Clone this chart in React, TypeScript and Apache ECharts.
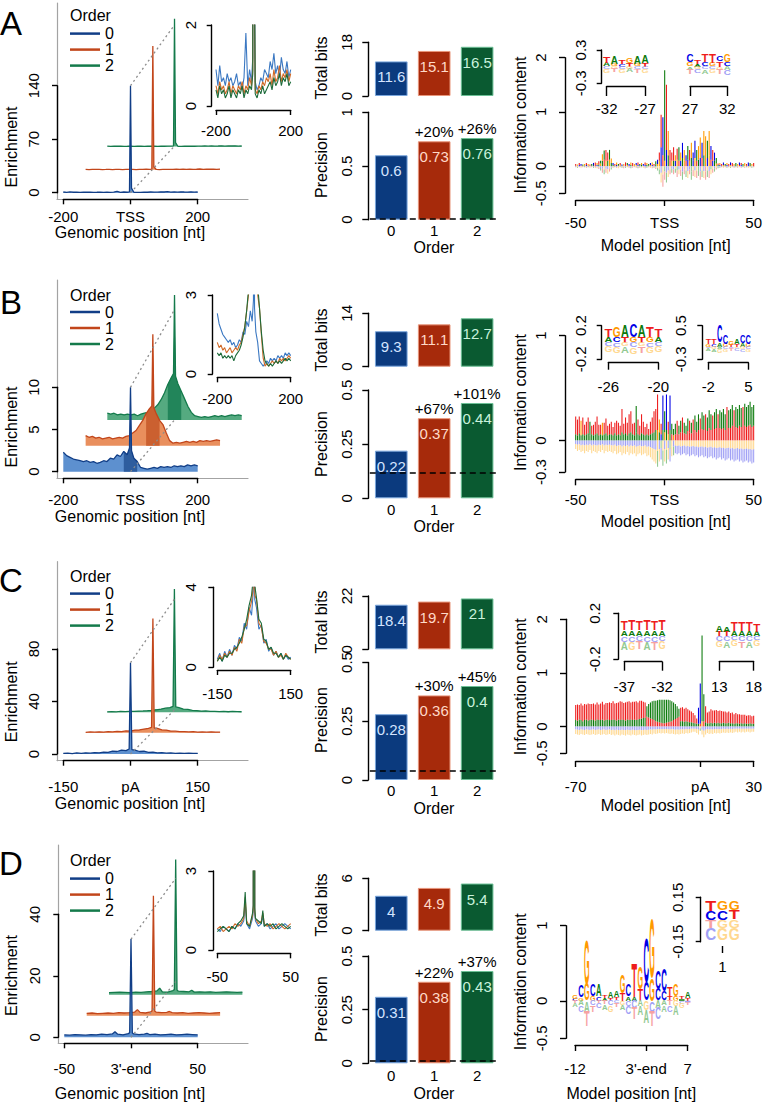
import React, { useEffect, useRef } from 'react';
import * as echarts from 'echarts';

const FONT = '"Liberation Sans", Arial, Helvetica, sans-serif';
const ORDERS = ['0', '1', '2'];

/* ---------------- enrichment profiles (left panels) ---------------- */
const posAB = [-200, -190, -180, -170, -160, -150, -140, -130, -120, -110, -100, -90, -80, -70, -60, -50, -40, -30, -20, -10, -3, 0, 3, 10, 20, 30, 40, 50, 60, 70, 80, 90, 100, 110, 120, 130, 140, 150, 160, 170, 180, 190, 200];
const posC = [-150, -140, -130, -120, -110, -100, -90, -80, -70, -60, -50, -40, -30, -20, -10, -3, 0, 3, 10, 20, 30, 40, 50, 60, 70, 80, 90, 100, 110, 120, 130, 140, 150];
const posD = [-50, -46, -42, -38, -34, -30, -26, -22, -18, -14, -12, -10, -6, -2, -1, 0, 1, 2, 6, 10, 12, 14, 18, 22, 26, 30, 34, 38, 42, 46, 50];

const enrichA0 = [0.9, 0.5, 1.0, 0.6, 0.7, 0.5, 0.8, 0.6, 0.7, 0.5, 0.6, 0.8, 0.5, 0.6, 0.4, 0.7, 1.8, 0.5, 0.9, 0.6, 1.2, 140, 6, 0.6, 0.4, 0.5, 0.7, 0.6, 0.9, 0.8, 0.7, 1.1, 0.9, 1.3, 0.8, 1.0, 0.7, 1.2, 0.9, 0.8, 1.1, 0.7, 0.9];
const enrichA1 = [0.5, 0.3, 0.6, 0.4, 0.5, 0.3, 0.4, 0.6, 0.3, 0.5, 0.4, 0.3, 0.5, 0.4, 0.6, 0.3, 0.5, 0.4, 0.7, 0.5, 0.9, 162, 4, 0.4, 0.3, 0.5, 0.4, 0.6, 0.5, 0.7, 0.6, 0.8, 0.5, 0.9, 0.6, 0.7, 1.0, 0.6, 0.8, 0.7, 0.9, 0.6, 0.8];
const enrichA2 = [0.4, 0.2, 0.5, 0.3, 0.4, 0.2, 0.3, 0.5, 0.2, 0.4, 0.3, 0.2, 0.4, 0.3, 0.5, 0.2, 0.4, 0.3, 0.5, 0.4, 0.8, 167, 5, 0.3, 0.2, 0.4, 0.3, 0.5, 0.3, 0.4, 0.5, 0.6, 0.4, 0.7, 0.5, 0.6, 0.8, 0.5, 0.7, 0.6, 0.8, 0.5, 0.6];

const enrichB0 = [2.3, 1.9, 1.7, 1.5, 1.4, 1.3, 1.2, 1.3, 1.1, 1.2, 1.0, 1.1, 1.3, 1.2, 1.6, 1.5, 2.0, 1.8, 2.4, 2.0, 2.8, 10, 2.5, 1.6, 1.2, 0.5, 0.4, 0.3, 0.4, 0.5, 0.4, 0.6, 0.5, 0.6, 0.5, 0.7, 0.6, 0.7, 0.6, 0.8, 0.7, 0.8, 0.7];
const enrichB1 = [1.2, 1.0, 1.1, 0.9, 1.0, 0.8, 0.9, 1.0, 0.8, 0.9, 1.0, 0.9, 1.1, 1.2, 1.5, 1.8, 2.4, 3.0, 3.8, 4.4, 4.7, 13.2, 4.5, 3.8, 3.0, 2.5, 1.5, 0.6, 0.3, 0.4, 0.3, 0.4, 0.5, 0.4, 0.5, 0.4, 0.6, 0.5, 0.6, 0.5, 0.6, 0.7, 0.6];
const enrichB2 = [0.8, 0.7, 0.8, 0.6, 0.7, 0.6, 0.7, 0.6, 0.7, 0.5, 0.7, 0.8, 0.9, 1.1, 1.4, 1.8, 2.4, 3.2, 4.2, 5.0, 5.5, 14.8, 5.2, 4.3, 3.4, 2.5, 1.6, 0.9, 0.5, 0.4, 0.3, 0.4, 0.3, 0.4, 0.5, 0.4, 0.5, 0.4, 0.5, 0.6, 0.5, 0.6, 0.5];

const enrichC0 = [0.4, 0.7, 0.3, 0.8, 0.5, 0.9, 0.6, 1.1, 0.9, 1.5, 1.3, 2.2, 1.9, 3.0, 2.6, 3.8, 69.6, 3.4, 3.0, 1.9, 2.1, 1.2, 1.4, 0.8, 1.0, 0.6, 0.8, 0.5, 0.7, 0.4, 0.6, 0.4, 0.5];
const enrichC1 = [0.3, 0.6, 0.4, 0.7, 0.5, 0.8, 0.6, 1.0, 0.8, 1.4, 1.2, 2.0, 2.1, 2.8, 3.3, 4.0, 87, 3.6, 3.4, 2.2, 2.0, 1.3, 1.2, 0.9, 0.9, 0.6, 0.8, 0.5, 0.6, 0.4, 0.7, 0.5, 0.4];
const enrichC2 = [0.3, 0.5, 0.3, 0.6, 0.5, 0.7, 0.7, 0.9, 1.0, 1.2, 1.5, 1.9, 2.4, 3.1, 3.6, 4.5, 94, 4.1, 3.5, 2.4, 2.2, 1.4, 1.3, 0.9, 1.0, 0.7, 0.7, 0.5, 0.7, 0.4, 0.6, 0.5, 0.4];

const enrichD0 = [0.8, 0.7, 0.9, 0.8, 0.7, 0.9, 0.8, 1.0, 0.9, 1.1, 1.8, 1.0, 0.8, 1.2, 1.5, 32, 1.4, 1.1, 0.9, 1.0, 1.3, 0.9, 1.0, 0.8, 0.9, 1.0, 0.8, 0.9, 1.0, 0.9, 0.8];
const enrichD1 = [0.8, 0.9, 0.7, 0.8, 0.9, 0.8, 1.0, 0.9, 1.0, 1.2, 2.0, 1.1, 0.9, 1.3, 1.6, 39, 1.5, 1.2, 1.0, 1.1, 1.4, 1.0, 0.9, 1.0, 0.8, 0.9, 1.0, 0.9, 0.8, 0.9, 1.0];
const enrichD2 = [0.7, 0.8, 0.9, 0.8, 0.7, 0.9, 0.8, 1.0, 1.1, 1.3, 2.2, 1.0, 0.9, 1.4, 1.7, 44, 1.6, 1.2, 1.1, 1.0, 1.5, 0.9, 1.0, 0.9, 1.0, 0.8, 0.9, 1.0, 0.9, 0.8, 0.9];

// perspective shift of the order-1 and order-2 profiles (nt, enrichment units)
const shiftXA = [0, 66.5, 131];
const shiftYA = [0, 30, 60.5];
const shiftXB = [0, 66.5, 131];
const shiftYB = [0, 3.08, 6.13];
const shiftXC = [0, 50, 98];
const shiftYC = [0, 16.2, 31.8];
const shiftXD = [0, 16.8, 33.5];
const shiftYD = [0, 7.0, 13.8];

// dotted depth guides
const depthTopA = [[0, 140], [131, 219.5]];
const depthBaseA = [[0, 0], [131, 61]];
const depthTopB = [[0, 10], [131, 19.2]];
const depthBaseB = [[0, 0], [131, 6.13]];
const depthTopC = [[0, 69.6], [98, 117.9]];
const depthBaseC = [[0, 0], [98, 33.5]];
const depthTopD = [[0, 31.9], [33.5, 51.7]];
const depthBaseD = [[0, 0], [33.5, 18.1]];

const bandB = [-27, 20];

const xTicksA = [-200, 0, 200];
const xTicksB = [-200, 0, 200];
const xTicksC = [-150, 0, 150];
const xTicksD = [-50, 0, 50];
const yTicksA = [0, 70, 140];
const yTicksB = [0, 5, 10];
const yTicksC = [0, 40, 80];
const yTicksD = [0, 20, 40];
const insetMax = [2, 3, 4, 3];

/* ---------------- bar panels ---------------- */
const totalBitsA = [11.6, 15.1, 16.5];
const totalBitsB = [9.3, 11.1, 12.7];
const totalBitsC = [18.4, 19.7, 21];
const totalBitsD = [4, 4.9, 5.4];
const bitsMax = [18, 14, 22, 6];
const precisionA = [0.6, 0.73, 0.76];
const precisionB = [0.22, 0.37, 0.44];
const precisionC = [0.28, 0.36, 0.4];
const precisionD = [0.31, 0.38, 0.43];
const precTicksA = [0, 0.5, 1];
const precTicksBCD = [0, 0.25, 0.5];
const gainA = ['', '+20%', '+26%'];
const gainB = ['', '+67%', '+101%'];
const gainC = ['', '+30%', '+45%'];
const gainD = ['', '+22%', '+37%'];
const chancePrecision = [0.01, 0.12, 0.04, 0.01];

/* ---------------- sequence logos (right panels) ---------------- */
// Row A, positions -50..50
const logoA_top = [0.03, 0.02, 0.04, 0.03, 0.02, 0.03, 0.04, 0.03, 0.02, 0.03, 0.04, 0.05, 0.04, 0.06,
  0.05, 0.12, 0.17, 0.2, 0.15, 0.18, 0.08,
  0.04, 0.03, 0.05, 0.03, 0.04, 0.02, 0.03, 0.05, 0.04, 0.03, 0.05, 0.04, 0.03, 0.04, 0.05, 0.03, 0.04, 0.03, 0.05, 0.04, 0.03, 0.04, 0.05, 0.03, 0.06, 0.08,
  0.15, 0.6, 0.7, 1.67, 1.2, 0.45, 0.2, 0.15,
  0.25, 0.1, 0.2, 0.25, 0.15, 0.28, 0.2, 0.1, 0.25, 0.2, 0.28, 0.15, 0.32, 0.2, 0.25, 0.38, 0.28, 0.45, 0.4, 0.32, 0.45, 0.25, 0.2, 0.15, 0.1, 0.03,
  0.04, 0.03, 0.05, 0.03, 0.04, 0.03, 0.05, 0.04, 0.03, 0.04, 0.03, 0.05, 0.04, 0.03, 0.04, 0.03, 0.05, 0.04, 0.03, 0.04];
const logoA_topL = 'TGTCAGTGTACTGT' + 'AGATTAG' + 'CTGATCGTACGTGCTAGCTGACGTAC' + 'TTCATGTT' + 'TGTAGCGCATGCCAGGCGGAGCTCAT' + 'GTCAGTCTGAGCTAGTCAGT';
const logoA_low = [0.01, 0.01, 0.02, 0.01, 0.01, 0.01, 0.02, 0.01, 0.01, 0.01, 0.02, 0.02, 0.02, 0.03,
  0.05, 0.1, 0.12, 0.1, 0.1, 0.12, 0.06,
  0.02, 0.01, 0.02, 0.01, 0.02, 0.01, 0.01, 0.02, 0.02, 0.01, 0.02, 0.02, 0.01, 0.02, 0.02, 0.01, 0.02, 0.01, 0.02, 0.02, 0.01, 0.02, 0.02, 0.01, 0.03, 0.04,
  0.1, 0.35, 0.2, 0.1, 0.3, 0.2, 0.1, 0.1,
  0.1, 0.1, 0.12, 0.1, 0.1, 0.15, 0.1, 0.1, 0.12, 0.1, 0.15, 0.1, 0.15, 0.1, 0.12, 0.15, 0.15, 0.2, 0.15, 0.15, 0.2, 0.12, 0.1, 0.1, 0.05, 0.02,
  0.02, 0.01, 0.02, 0.01, 0.02, 0.01, 0.02, 0.02, 0.01, 0.02, 0.01, 0.02, 0.02, 0.01, 0.02, 0.01, 0.02, 0.02, 0.01, 0.02];
const logoA_lowL = 'AGCTGACTGCATCA' + 'GATGAGA' + 'AGCTGACTGCATAGCTAGCATGCTAG' + 'GCTGCATG' + 'ACGTCAGTCGACGTACTAGCGTCAGA' + 'CAGTCAGTCAGTCAGTCAGT';
const logoA_neg = [0.02, 0.03, 0.02, 0.03, 0.02, 0.02, 0.03, 0.02, 0.03, 0.02, 0.03, 0.03, 0.04, 0.05,
  0.08, 0.12, 0.15, 0.12, 0.14, 0.1, 0.06,
  0.03, 0.02, 0.03, 0.04, 0.02, 0.03, 0.04, 0.03, 0.02, 0.03, 0.04, 0.03, 0.02, 0.03, 0.04, 0.03, 0.02, 0.03, 0.04, 0.03, 0.02, 0.03, 0.04, 0.03, 0.05, 0.08,
  0.15, 0.3, 0.38, 0.25, 0.3, 0.2, 0.15, 0.12,
  0.15, 0.12, 0.2, 0.15, 0.18, 0.25, 0.15, 0.2, 0.22, 0.15, 0.25, 0.18, 0.2, 0.22, 0.18, 0.25, 0.2, 0.22, 0.25, 0.2, 0.22, 0.15, 0.12, 0.1, 0.06, 0.04,
  0.03, 0.02, 0.03, 0.02, 0.03, 0.02, 0.03, 0.02, 0.03, 0.02, 0.03, 0.02, 0.03, 0.02, 0.03, 0.02, 0.03, 0.02, 0.03, 0.02];
const logoA_neg1 = 'CGCGACGCTGCAGC' + 'CCGCCGC' + 'GCAGCTGCAGCGCAGCTGCAGCGCAG' + 'GCGACCGC' + 'CGACGCTGCCAGCGACGCTGCAGCGC' + 'GCAGCTGCAGCGCAGCTGCA';
const logoA_neg2 = 'TATGTATAGTATGT' + 'ATATGTA' + 'TATGTATAGTATGTATAGTATGTATA' + 'AGTTAGTA' + 'TATGTATAGTATGTATAGTATGTATA' + 'ATGTATAGTATGTATAGTAT';

// Row B, positions -50..50
const logoB_top = [0.17, 0.15, 0.16, 0.14, 0.16, 0.1, 0.12, 0.15, 0.13, 0.08, 0.1, 0.12, 0.16, 0.1, 0.09, 0.12, 0.11, 0.14, 0.09, 0.1,
  0.12, 0.08, 0.1, 0.14, 0.11, 0.09, 0.22, 0.1, 0.15, 0.12, 0.18, 0.2, 0.1, 0.12, 0.25, 0.14, 0.09, 0.18, 0.12, 0.08, 0.1, 0.06, 0.12, 0.15, 0.2,
  0.2, 0.34, 0.12, 0.1, 0.33, 0.2, 0.34, 0.12, 0.33, 0.1, 0.06,
  0.1, 0.12, 0.08, 0.11, 0.14, 0.1, 0.08, 0.12, 0.11, 0.1, 0.12, 0.14, 0.1, 0.15, 0.12, 0.16, 0.14, 0.15, 0.13, 0.17, 0.15, 0.14, 0.16, 0.18, 0.15, 0.17, 0.16, 0.18, 0.15, 0.19, 0.17, 0.18, 0.2, 0.17, 0.19, 0.18, 0.2, 0.18, 0.19, 0.21, 0.19, 0.2, 0.22, 0.19, 0.2];
const logoB_topL = 'TTTGTTTTAT' + 'TTTTTGTTTT' + 'TTTTTTTTTT' + 'TTTTATTTTT' + 'TTTTT' + 'TTGTCACTCAA' + 'ATAATAAATA' + 'TAAATAATAA' + 'ATAATAAAAT' + 'AAATAAAATA' + 'AAAAA';
const logoB_low = [0.06, 0.05, 0.07, 0.05, 0.06, 0.05, 0.06, 0.07, 0.05, 0.06, 0.05, 0.06, 0.07, 0.05, 0.06, 0.05, 0.06, 0.07, 0.05, 0.06,
  0.06, 0.05, 0.07, 0.05, 0.06, 0.05, 0.08, 0.06, 0.07, 0.05, 0.07, 0.08, 0.06, 0.05, 0.08, 0.06, 0.05, 0.07, 0.06, 0.05, 0.06, 0.05, 0.06, 0.07, 0.08,
  0.1, 0.1, 0.08, 0.06, 0.1, 0.08, 0.1, 0.06, 0.1, 0.06, 0.05,
  0.06, 0.07, 0.06, 0.08, 0.08, 0.07, 0.06, 0.09, 0.08, 0.07, 0.08, 0.1, 0.08, 0.1, 0.09, 0.11, 0.1, 0.1, 0.09, 0.12, 0.1, 0.1, 0.11, 0.12, 0.1, 0.12, 0.11, 0.12, 0.1, 0.13, 0.12, 0.12, 0.14, 0.12, 0.13, 0.12, 0.14, 0.13, 0.13, 0.14, 0.13, 0.14, 0.15, 0.13, 0.14];
const logoB_lowL = 'AAAAAAAAAA' + 'AAAAAAAAAA' + 'AAAAAAAAAA' + 'AAAAAAAAAA' + 'AAAAA' + 'AGACAGAGATG' + 'TTTTTTTTTT' + 'TTTTTTTTTT' + 'TTTTTTTTTT' + 'TTTTTTTTTT' + 'TTTTT';
const logoB_neg = [0.08, 0.1, 0.09, 0.11, 0.1, 0.12, 0.1, 0.11, 0.09, 0.12, 0.1, 0.11, 0.12, 0.1, 0.11, 0.09, 0.12, 0.1, 0.11, 0.1,
  0.11, 0.12, 0.1, 0.13, 0.12, 0.11, 0.14, 0.12, 0.13, 0.11, 0.14, 0.12, 0.13, 0.12, 0.15, 0.13, 0.12, 0.14, 0.13, 0.12, 0.15, 0.14, 0.16, 0.18, 0.2,
  0.22, 0.25, 0.2, 0.18, 0.24, 0.2, 0.22, 0.18, 0.2, 0.15, 0.14,
  0.12, 0.13, 0.12, 0.14, 0.13, 0.12, 0.14, 0.13, 0.15, 0.14, 0.13, 0.15, 0.14, 0.16, 0.15, 0.14, 0.16, 0.15, 0.17, 0.16, 0.15, 0.17, 0.16, 0.18, 0.17, 0.16, 0.18, 0.17, 0.19, 0.18, 0.17, 0.19, 0.18, 0.2, 0.19, 0.18, 0.2, 0.19, 0.21, 0.2, 0.19, 0.21, 0.2, 0.22, 0.21];
const logoB_neg1 = 'CCCCCCCCCC' + 'CCCCCCCCCC' + 'CCCCCCCCCC' + 'CCCCCCCCCC' + 'CCCCC' + 'CGCAGCGCAGC' + 'GGGGGGGGGG' + 'GGGGGGGGGG' + 'GGGGGGGGGG' + 'GGGGGGGGGG' + 'GGGGG';
const logoB_neg2 = 'GGGGGGGGGG' + 'GGGGGGGGGG' + 'GGGGGGGGGG' + 'GGGGGGGGGG' + 'GGGGG' + 'GAGCAGAGCGA' + 'CCCCCCCCCC' + 'CCCCCCCCCC' + 'CCCCCCCCCC' + 'CCCCCCCCCC' + 'CCCCC';

// Row C, positions -70..30
const logoC_top = [0.28, 0.3, 0.27, 0.31, 0.29, 0.3, 0.28, 0.32, 0.3, 0.29, 0.31, 0.3, 0.32, 0.29, 0.31, 0.33, 0.3, 0.32, 0.31, 0.33, 0.32, 0.34, 0.31, 0.33, 0.32, 0.35, 0.33, 0.32, 0.34, 0.33, 0.35, 0.32, 0.34, 0.33, 0.35, 0.32, 0.34, 0.33, 0.3, 0.28,
  0.2, 0.25, 0.3, 0.33, 0.36, 0.38, 0.4, 0.42, 0.43, 0.44, 0.44, 0.43, 0.42, 0.4, 0.37, 0.33, 0.28, 0.22, 0.15,
  0.25, 0.26, 0.24, 0.25, 0.23, 0.22, 0.2, 0.18, 0.15, 0.1, 0.3,
  0.75, 1.6, 0.5, 0.3, 0.2,
  0.22, 0.25, 0.24, 0.23, 0.25, 0.22, 0.24, 0.23, 0.21, 0.22, 0.2, 0.21, 0.19, 0.2, 0.18, 0.19, 0.17, 0.18, 0.16, 0.17, 0.16, 0.15, 0.16, 0.15, 0.14, 0.15];
const logoC_topL = 'TTTTTTTTTT' + 'TTTTTTTTTT' + 'TTTTTTTTTT' + 'TTTTTTTTTT' + 'AAAAAAAAAA' + 'AAAAAAAAA' + 'TTTTTTTTTTC' + 'CAATT' + 'TTTTTTTTTT' + 'TTTTTTTTTT' + 'TTTTTT';
const logoC_low = [0.12, 0.11, 0.13, 0.12, 0.1, 0.12, 0.13, 0.11, 0.12, 0.13, 0.12, 0.11, 0.13, 0.12, 0.12, 0.13, 0.11, 0.12, 0.13, 0.12, 0.12, 0.13, 0.12, 0.11, 0.13, 0.12, 0.13, 0.12, 0.11, 0.13, 0.12, 0.13, 0.12, 0.13, 0.12, 0.13, 0.14, 0.15, 0.16, 0.17,
  0.18, 0.17, 0.15, 0.14, 0.12, 0.1, 0.09, 0.08, 0.07, 0.06, 0.06, 0.07, 0.08, 0.09, 0.1, 0.12, 0.14, 0.16, 0.18,
  0.1, 0.1, 0.09, 0.1, 0.09, 0.08, 0.08, 0.07, 0.06, 0.05, 0.05,
  0.05, 0.1, 0.1, 0.08, 0.06,
  0.06, 0.07, 0.06, 0.07, 0.06, 0.07, 0.06, 0.06, 0.07, 0.06, 0.06, 0.07, 0.06, 0.06, 0.05, 0.06, 0.06, 0.05, 0.06, 0.05, 0.06, 0.05, 0.05, 0.06, 0.05, 0.05];
const logoC_lowL = 'AAAAAAAAAA' + 'AAAAAAAAAA' + 'AAAAAAAAAA' + 'AAAAAAAAAA' + 'TTTTTTTTTT' + 'TTTTTTTTT' + 'AAAAAAAAAAA' + 'TGTAA' + 'AAAAAAAAAA' + 'AAAAAAAAAA' + 'AAAAAA';
const logoC_neg = [0.14, 0.15, 0.16, 0.14, 0.15, 0.16, 0.14, 0.15, 0.16, 0.15, 0.14, 0.16, 0.15, 0.14, 0.16, 0.15, 0.14, 0.16, 0.15, 0.14, 0.16, 0.15, 0.17, 0.15, 0.16, 0.17, 0.15, 0.16, 0.17, 0.15, 0.16, 0.17, 0.15, 0.16, 0.17, 0.16, 0.15, 0.17, 0.16, 0.15,
  0.16, 0.15, 0.14, 0.15, 0.13, 0.14, 0.13, 0.12, 0.13, 0.12, 0.13, 0.12, 0.13, 0.14, 0.13, 0.14, 0.15, 0.14, 0.15,
  0.14, 0.13, 0.14, 0.12, 0.13, 0.12, 0.11, 0.1, 0.1, 0.12, 0.15,
  0.08, 0.15, 0.2, 0.15, 0.12,
  0.14, 0.13, 0.14, 0.12, 0.13, 0.12, 0.13, 0.12, 0.11, 0.12, 0.11, 0.12, 0.11, 0.12, 0.11, 0.1, 0.11, 0.1, 0.11, 0.1, 0.11, 0.1, 0.1, 0.11, 0.1, 0.1];
const logoC_neg1 = 'CCCCCCCCCC' + 'CCCCCCCCCC' + 'CCCCCCCCCC' + 'CCCCCCCCCC' + 'CCCCCCCCCC' + 'CCCCCCCCC' + 'CCCCCCCCCCC' + 'GCCCC' + 'CCCCCCCCCC' + 'CCCCCCCCCC' + 'CCCCCC';
const logoC_neg2 = 'GGGGGGGGGG' + 'GGGGGGGGGG' + 'GGGGGGGGGG' + 'GGGGGGGGGG' + 'GGGGGGGGGG' + 'GGGGGGGGG' + 'GGGGGGGGGGG' + 'AGGGG' + 'GGGGGGGGGG' + 'GGGGGGGGGG' + 'GGGGGG';

// Row D, positions -12..7
const logoD_top = [0.05, 0.15, 0.6, 0.15, 0.15, 0.04, 0.08, 0.08, 0.25, 0.15, 0.45, 0.3, 0.6, 0.8, 0.25, 0.3, 0.12, 0.15, 0.04, 0.08];
const logoD_topL = 'GCGCATAAGCTGCGCCTGTA';
const logoD_low = [0.03, 0.04, 0.22, 0.06, 0.05, 0.03, 0.03, 0.04, 0.1, 0.05, 0.05, 0.15, 0.25, 0.3, 0.15, 0.12, 0.06, 0.06, 0.02, 0.03];
const logoD_lowL = 'CGGGCATTTAATCGCCTGAT';
const logoD_neg = [0.08, 0.15, 0.35, 0.15, 0.1, 0.12, 0.15, 0.08, 0.12, 0.18, 0.25, 0.2, 0.3, 0.35, 0.25, 0.15, 0.15, 0.2, 0.1, 0.05];
const logoD_neg1 = 'TAACTTCCGCCAGCAATGCC';
const logoD_neg2 = 'ACTTCAGTACTAATCACAGT';

const logoXTicksA = [-50, 0, 50];
const logoXTicksB = [-50, 0, 50];
const logoXTicksC = [-70, 0, 30];
const logoXTicksD = [-12, 0, 7];
const logoYTicksA = [-0.5, 0, 1, 2];
const logoYTicksB = [-0.3, 0, 1];
const logoYTicksC = [-0.5, 0, 1, 2];
const logoYTicksD = [-0.5, 0, 1];

// zoomed logo insets
const insetA1 = { first: -32, top: [0.12, 0.15, 0.08, 0.1, 0.15, 0.14], topL: 'TATGAA', low: [0.06, 0.05, 0.05, 0.06, 0.05, 0.06], lowL: 'AGCTGT', neg: [0.12, 0.1, 0.12, 0.1, 0.11, 0.12], neg1: 'CGCGCC', neg2: 'GTGATG', yr: [-0.3, 0.3], ticks: [-32, -27] };
const insetA2 = { first: 27, top: [0.15, 0.08, 0.15, 0.16, 0.1, 0.14], topL: 'CTTTCG', low: [0.08, 0.05, 0.08, 0.06, 0.1, 0.08], lowL: 'GACGTC', neg: [0.14, 0.12, 0.13, 0.12, 0.14, 0.15], neg1: 'AGCCGA', neg2: 'TCAGTC', yr: [-0.3, 0.3], ticks: [27, 32] };
const insetB1 = { first: -26, top: [0.1, 0.12, 0.14, 0.15, 0.14, 0.12, 0.1], topL: 'TGACATT', low: [0.06, 0.06, 0.07, 0.06, 0.07, 0.06, 0.06], lowL: 'ACTGTGA', neg: [0.12, 0.13, 0.12, 0.14, 0.12, 0.13, 0.12], neg1: 'CCGCGCC', neg2: 'GGAGTGG', yr: [-0.2, 0.2], ticks: [-26, -20] };
const insetB2 = { first: -2, top: [0.12, 0.12, 0.4, 0.22, 0.08, 0.12, 0.18, 0.22], topL: 'TTCCGACC', low: [0.06, 0.06, 0.1, 0.08, 0.05, 0.06, 0.08, 0.08], lowL: 'GCAGTTAG', neg: [0.1, 0.12, 0.15, 0.12, 0.1, 0.1, 0.12, 0.12], neg1: 'CGACCGGC', neg2: 'AAGGTCCG', yr: [-0.3, 0.5], ticks: [-2, 5] };
const insetC1 = { first: -37, top: [0.08, 0.09, 0.08, 0.09, 0.08, 0.09], topL: 'TTTTTT', low: [0.05, 0.05, 0.05, 0.05, 0.05, 0.05], lowL: 'AAAAAA', neg: [0.12, 0.12, 0.11, 0.12, 0.12, 0.11], neg1: 'CCCCCC', neg2: 'AGTATG', yr: [-0.2, 0.2], ticks: [-37, -32] };
const insetC2 = { first: 13, top: [0.06, 0.05, 0.08, 0.08, 0.08, 0.07], topL: 'AATTTT', low: [0.04, 0.04, 0.04, 0.04, 0.04, 0.04], lowL: 'TTAAAA', neg: [0.1, 0.1, 0.09, 0.1, 0.1, 0.09], neg1: 'CCCCCC', neg2: 'GAGTAG', yr: [-0.2, 0.2], ticks: [13, 18] };
const insetD1 = { first: 0, top: [0.07, 0.06, 0.06], topL: 'TGG', low: [0.06, 0.06, 0.06], lowL: 'CCT', neg: [0.14, 0.14, 0.14], neg1: 'TGG', neg2: 'CGG', yr: [-0.15, 0.15], ticks: [1] };

/* ---------------- rows ---------------- */
const ROWS: any[] = [
  { letter: 'A', zero: 'TSS', pos: posAB, traces: [enrichA0, enrichA1, enrichA2], dx: shiftXA, dy: shiftYA, band: null, depth: [depthTopA, depthBaseA], xTicks: xTicksA, yTicks: yTicksA, insetMax: insetMax[0],
    bits: totalBitsA, bitsMax: bitsMax[0], prec: precisionA, precTicks: precTicksA, gain: gainA, chance: chancePrecision[0],
    logo: { first: -50, top: logoA_top, topL: logoA_topL, low: logoA_low, lowL: logoA_lowL, neg: logoA_neg, neg1: logoA_neg1, neg2: logoA_neg2, xTicks: logoXTicksA, yTicks: logoYTicksA },
    insets: [insetA1, insetA2] },
  { letter: 'B', zero: 'TSS', pos: posAB, traces: [enrichB0, enrichB1, enrichB2], dx: shiftXB, dy: shiftYB, band: bandB, depth: [depthTopB, depthBaseB], xTicks: xTicksB, yTicks: yTicksB, insetMax: insetMax[1],
    bits: totalBitsB, bitsMax: bitsMax[1], prec: precisionB, precTicks: precTicksBCD, gain: gainB, chance: chancePrecision[1],
    logo: { first: -50, top: logoB_top, topL: logoB_topL, low: logoB_low, lowL: logoB_lowL, neg: logoB_neg, neg1: logoB_neg1, neg2: logoB_neg2, xTicks: logoXTicksB, yTicks: logoYTicksB },
    insets: [insetB1, insetB2] },
  { letter: 'C', zero: 'pA', pos: posC, traces: [enrichC0, enrichC1, enrichC2], dx: shiftXC, dy: shiftYC, band: null, depth: [depthTopC, depthBaseC], xTicks: xTicksC, yTicks: yTicksC, insetMax: insetMax[2],
    bits: totalBitsC, bitsMax: bitsMax[2], prec: precisionC, precTicks: precTicksBCD, gain: gainC, chance: chancePrecision[2],
    logo: { first: -70, top: logoC_top, topL: logoC_topL, low: logoC_low, lowL: logoC_lowL, neg: logoC_neg, neg1: logoC_neg1, neg2: logoC_neg2, xTicks: logoXTicksC, yTicks: logoYTicksC },
    insets: [insetC1, insetC2] },
  { letter: 'D', zero: "3'-end", pos: posD, traces: [enrichD0, enrichD1, enrichD2], dx: shiftXD, dy: shiftYD, band: null, depth: [depthTopD, depthBaseD], xTicks: xTicksD, yTicks: yTicksD, insetMax: insetMax[3],
    bits: totalBitsD, bitsMax: bitsMax[3], prec: precisionD, precTicks: precTicksBCD, gain: gainD, chance: chancePrecision[3],
    logo: { first: -12, top: logoD_top, topL: logoD_topL, low: logoD_low, lowL: logoD_lowL, neg: logoD_neg, neg1: logoD_neg1, neg2: logoD_neg2, xTicks: logoXTicksD, yTicks: logoYTicksD },
    insets: [insetD1] },
];

/* ---------------- layout (pixels) ---------------- */
const LAYOUT: any[] = [
  { letterY: 23,
    left: { frame: [57, 3, 248, 199.3], xPx: [63.3, 197.7], yPx: [192.7, 85.7], yAxisX: 57, xAxisY: 199.3, xMargin: 10, yMargin: 16, orderY: 15, legendTop: 25.6, yTitleY: 147, xTitleY: 232 },
    inset: { xPx: [216, 290.7], yPx: [106, 25], axisX: 211.7, axisY: 110, xMargin: 13, yMargin: 14 },
    bars: { bitsPx: [96, 42.3], precPx: [219.7, 112.3], catMargin: 3, bitsTitleY: 68, precTitleY: 165, orderTitleY: 247 },
    right: { xPx: [575.7, 755.7], yPx: [193.3, 57.7], axisX: 565, axisY: 200, xMargin: 15, yMargin: 17.5, yTitleY: 125, xTitleX: 665.7, xTitleY: 245 },
    insets: [
      { cPx: [606.7, 645], yPx: [83.3, 50], axisX: 601.7, bracketY: 86, tickLen: 10, labMargin: 15, yMargin: 14 },
      { cPx: [690, 727.3], yPx: [83.3, 50], axisX: null, bracketY: 86, tickLen: 10, labMargin: 15, yMargin: 14 },
    ] },
  { letterY: 302,
    left: { frame: [57, 280, 248, 478.3], xPx: [63.3, 197.7], yPx: [471.7, 387.3], yAxisX: 57, xAxisY: 478.3, xMargin: 14, yMargin: 16, orderY: 295, legendTop: 304, yTitleY: 427, xTitleY: 516 },
    inset: { xPx: [217.3, 290.7], yPx: [374, 295], axisX: 212.7, axisY: 377.3, xMargin: 14, yMargin: 15 },
    bars: { bitsPx: [366.7, 313.3], precPx: [498.3, 390], catMargin: 3.5, bitsTitleY: 340, precTitleY: 444, orderTitleY: 526.7 },
    right: { xPx: [575.7, 755.7], yPx: [472, 335.7], axisX: 565, axisY: 479.3, xMargin: 13, yMargin: 17.5, yTitleY: 402.5, xTitleX: 665.7, xTitleY: 521 },
    insets: [
      { cPx: [608.3, 658.3], yPx: [359.3, 325.7], axisX: 601.7, bracketY: 362.7, tickLen: 7, labMargin: 16, yMargin: 14 },
      { cPx: [708.3, 748.3], yPx: [359.3, 325.7], axisX: 702.3, bracketY: 362.7, tickLen: 7, labMargin: 16, yMargin: 14 },
    ] },
  { letterY: 580,
    left: { frame: [57, 561.7, 248, 760.7], xPx: [63.3, 197.7], yPx: [754, 649], yAxisX: 57, xAxisY: 760.7, xMargin: 18, yMargin: 16, orderY: 576.7, legendTop: 585.6, yTitleY: 701.7, xTitleY: 803 },
    inset: { xPx: [217.3, 290.7], yPx: [667.3, 587.3], axisX: 213.3, axisY: 670, xMargin: 16, yMargin: 15 },
    bars: { bitsPx: [649.3, 596], precPx: [780, 662.5], catMargin: 2.5, bitsTitleY: 622, precTitleY: 720, orderTitleY: 808 },
    right: { xPx: [575.7, 755.7], yPx: [753.3, 619.3], axisX: 566, axisY: 761, xMargin: 17.5, yMargin: 17.5, yTitleY: 686.7, xTitleX: 665.7, xTitleY: 805 },
    insets: [
      { cPx: [624.3, 662], yPx: [659.3, 613.3], axisX: 618.3, bracketY: 661.7, tickLen: 9, labMargin: 17, yMargin: 16 },
      { cPx: [719.3, 756.7], yPx: [659.3, 613.3], axisX: null, bracketY: 661.7, tickLen: 9, labMargin: 17, yMargin: 16 },
    ] },
  { letterY: 863,
    left: { frame: [58.3, 845, 248, 1043.3], xPx: [64.3, 197.7], yPx: [1037.3, 914.3], yAxisX: 58.3, xAxisY: 1043.3, xMargin: 18, yMargin: 16, orderY: 860, legendTop: 870.6, yTitleY: 975.5, xTitleY: 1093.3 },
    inset: { xPx: [217.3, 290.7], yPx: [950, 871], axisX: 213.3, axisY: 953.3, xMargin: 16, yMargin: 15 },
    bars: { bitsPx: [930.7, 878.3], precPx: [1063.3, 956], catMargin: 5, bitsTitleY: 905, precTitleY: 1009, orderTitleY: 1093.3 },
    right: { xPx: [575, 687.7], yPx: [1038.3, 925.7], axisX: 566, axisY: 1045, xMargin: 16, yMargin: 17.5, yTitleY: 981.7, xTitleX: 631.3, xTitleY: 1093.3 },
    insets: [
      { cPx: [710.8, 734.2], yPx: [941.7, 897.3], axisX: 700.7, bracketY: 946, tickLen: 7, labMargin: 13, yMargin: 16 },
    ] },
];

const BAR_LEFT = 369.8;
const BAR_WIDTH = 128.8;
const BAR_AXIS_X = 368.3;

/* ---------------- styles ---------------- */
const TRACE = ['#113e87', '#c2461b', '#147a4b'];
const FILL = ['#5d90cf', '#e98f5d', '#55aa80'];
const FILL_DARK = ['#2e5d9e', '#cb6030', '#22855a'];
const INSET = ['#3b78c2', '#d06a28', '#1d6b3a'];
const BAR = ['#0b3a7e', '#a62a0b', '#0a5a31'];
const BAR_EDGE = ['#7aa6dc', '#e8957a', '#6cc096'];
const BAR_TEXT = ['#d4e4ff', '#ffd9c8', '#c9f2dc'];

const LETTERS = ['A', 'C', 'G', 'T'];
const LETTER_COLOR: any = { A: '#0b7a0b', C: '#0000e6', G: '#ff9a00', T: '#ee1c1c' };
const LETTER_FADED: any = { A: '#92c992', C: '#a0a0f5', G: '#ffd890', T: '#f6a2a2' };
const GLYPH_W: any = { A: 0.722, C: 0.722, G: 0.778, T: 0.611 };
const CAP_H = 0.716;
const GLYPH_FONT = 40;
const NEG_SPLIT = 0.4;

function renderLetter(params: any, api: any) {
  const x = api.value(0);
  const base = api.value(1);
  const h = api.value(2);
  const L = LETTERS[api.value(3)] || 'A';
  const faded = api.value(4) === 1;
  if (!(h > 0)) return null;
  const p0 = api.coord([x, base]);
  const p1 = api.coord([x, base + h]);
  const colW = api.size([1, 0])[0];
  const w = colW * 0.94;
  const hp = Math.abs(p1[1] - p0[1]);
  const fill = faded ? LETTER_FADED[L] : LETTER_COLOR[L];
  if (hp < 1.6 || colW < 4) {
    const rw = colW < 4 ? colW * 0.6 : w;
    return { type: 'rect', shape: { x: p0[0] - rw / 2, y: Math.min(p0[1], p1[1]), width: rw, height: Math.max(hp, 0.5) }, style: { fill } };
  }
  return {
    type: 'text',
    x: p0[0],
    y: (p0[1] + p1[1]) / 2,
    scaleX: w / (GLYPH_W[L] * GLYPH_FONT),
    scaleY: hp / (CAP_H * GLYPH_FONT),
    style: { text: L, fontSize: GLYPH_FONT, fontFamily: FONT, fontWeight: 'bold', fill, align: 'center', verticalAlign: 'middle', textAlign: 'center', textVerticalAlign: 'middle' },
  };
}

const code = (s: string, i: number) => Math.max(0, LETTERS.indexOf(s.charAt(i) || 'A'));

function logoItems(lg: any) {
  const items: any[] = [];
  for (let i = 0; i < lg.top.length; i++) {
    const p = lg.first + i;
    items.push([p, 0, lg.low[i], code(lg.lowL, i), 0]);
    items.push([p, lg.low[i], lg.top[i], code(lg.topL, i), 0]);
    items.push([p, -lg.neg[i] * NEG_SPLIT, lg.neg[i] * NEG_SPLIT, code(lg.neg1, i), 1]);
    items.push([p, -lg.neg[i], lg.neg[i] * (1 - NEG_SPLIT), code(lg.neg2, i), 1]);
  }
  return items;
}

const lin = (v0: number, p0: number, v1: number, p1: number) => {
  const k = (p1 - p0) / (v1 - v0);
  return { px: (v: number) => p0 + (v - v0) * k, val: (p: number) => v0 + (p - p0) / k };
};

const hiddenAxis = (min = 0, max = 1) => ({ type: 'value', show: false, min, max, splitLine: { show: false } });

const rAxis = (o: any) => ({
  type: 'value',
  min: o.min,
  max: o.max,
  position: o.position,
  offset: o.offset || 0,
  axisLine: { show: o.line !== false, onZero: false, lineStyle: { color: '#000', width: 1.4 } },
  axisTick: { show: true, customValues: o.ticks, length: o.tickLen || 5, inside: false, lineStyle: { color: '#000', width: 1.4 } },
  axisLabel: {
    show: true, customValues: o.ticks, formatter: o.fmt || ((v: number) => String(v)),
    fontSize: o.fontSize || 15, fontFamily: FONT, color: '#000', margin: o.margin, rotate: o.rotate || 0,
    showMinLabel: true, showMaxLabel: true,
  },
  splitLine: { show: false },
});

const grayAxis = (min: number, max: number) => ({
  type: 'value', min, max,
  axisLine: { show: true, onZero: false, lineStyle: { color: '#a3a3a3', width: 1.2 } },
  axisTick: { show: false }, axisLabel: { show: false }, splitLine: { show: false },
});

function buildOption() {
  const grid: any[] = [];
  const xAxis: any[] = [];
  const yAxis: any[] = [];
  const series: any[] = [];
  const elements: any[] = [];
  const legend: any[] = [];

  const addGrid = (left: number, top: number, width: number, height: number, xa: any, ya: any) => {
    const gridIndex = grid.length;
    grid.push({ left, top, width, height, containLabel: false });
    xAxis.push({ ...xa, gridIndex });
    yAxis.push({ ...ya, gridIndex });
    return gridIndex;
  };

  const text = (s: string, x: number, y: number, size = 16, rot = false, align = 'center') => {
    elements.push({
      type: 'text', x, y, rotation: rot ? Math.PI / 2 : 0, silent: true,
      style: { text: s, fill: '#000', font: `${size}px ${FONT}`, textAlign: align, textVerticalAlign: 'middle', align, verticalAlign: 'middle' },
    });
  };

  ROWS.forEach((D: any, r: number) => {
    const L = LAYOUT[r];
    const zeroFmt = (v: number) => (v === 0 ? D.zero : String(v));

    text(D.letter, 11, L.letterY, 33);

    /* ---- left: enrichment ---- */
    const lf = L.left;
    const xT = D.xTicks;
    const yT = D.yTicks;
    const lx = lin(xT[0], lf.xPx[0], xT[xT.length - 1], lf.xPx[1]);
    const ly = lin(yT[0], lf.yPx[0], yT[yT.length - 1], lf.yPx[1]);
    const fr = lf.frame;
    const gMain = addGrid(fr[0], fr[1], fr[2] - fr[0], fr[3] - fr[1],
      grayAxis(lx.val(fr[0]), lx.val(fr[2])), grayAxis(ly.val(fr[3]), ly.val(fr[1])));
    addGrid(lf.yAxisX, lf.yPx[1], 10, lf.yPx[0] - lf.yPx[1], hiddenAxis(),
      rAxis({ min: yT[0], max: yT[yT.length - 1], ticks: yT, position: 'left', rotate: 90, margin: lf.yMargin }));
    addGrid(lf.xPx[0], lf.xAxisY - 10, lf.xPx[1] - lf.xPx[0], 10,
      rAxis({ min: xT[0], max: xT[xT.length - 1], ticks: xT, position: 'bottom', margin: lf.xMargin, fmt: zeroFmt }), hiddenAxis());

    for (const k of [2, 1, 0]) {
      const zb = 3 + (2 - k) * 3;
      const pts = D.pos.map((x: number, i: number) => [x + D.dx[k], D.traces[k][i] + D.dy[k]]);
      series.push({ type: 'line', xAxisIndex: gMain, yAxisIndex: gMain, data: pts, symbol: 'none', showSymbol: false, silent: true,
        lineStyle: { width: 0, opacity: 0 }, areaStyle: { color: FILL[k], opacity: 1, origin: D.dy[k] }, z: zb });
      if (D.band) {
        const bandPts = pts.filter((_: any, i: number) => D.pos[i] >= D.band[0] && D.pos[i] <= D.band[1]);
        series.push({ type: 'line', xAxisIndex: gMain, yAxisIndex: gMain, data: bandPts, symbol: 'none', showSymbol: false, silent: true,
          lineStyle: { width: 0, opacity: 0 }, areaStyle: { color: FILL_DARK[k], opacity: 1, origin: D.dy[k] }, z: zb + 1 });
      }
      series.push({ type: 'line', name: ORDERS[k], xAxisIndex: gMain, yAxisIndex: gMain, data: pts, symbol: 'none', showSymbol: false, silent: true,
        itemStyle: { color: TRACE[k] }, lineStyle: { color: TRACE[k], width: 1.3 }, z: zb + 2 });
    }
    D.depth.forEach((seg: any) => {
      series.push({ type: 'line', xAxisIndex: gMain, yAxisIndex: gMain, data: seg, symbol: 'none', silent: true,
        lineStyle: { color: '#8c8c8c', width: 1.3, type: [2, 3] }, z: 13 });
    });

    text('Order', 70, lf.orderY, 16, false, 'left');
    legend.push({
      data: ORDERS, orient: 'vertical', left: 70, top: lf.legendTop, icon: 'rect', itemWidth: 30, itemHeight: 2.5,
      itemGap: 0, padding: 0, selectedMode: false,
      textStyle: { fontSize: 16, fontFamily: FONT, color: '#000', lineHeight: 15.5 },
    });
    text('Enrichment', 11, lf.yTitleY, 16, true);
    text('Genomic position [nt]', 130, lf.xTitleY, 16);

    /* ---- left inset ---- */
    const I = L.inset;
    const gIn = addGrid(I.xPx[0], I.yPx[1], I.xPx[1] - I.xPx[0], I.yPx[0] - I.yPx[1],
      rAxis({ min: xT[0], max: xT[xT.length - 1], ticks: [xT[0], xT[xT.length - 1]], position: 'bottom', offset: I.axisY - I.yPx[0], margin: I.xMargin }),
      rAxis({ min: 0, max: D.insetMax, ticks: [0, D.insetMax], position: 'left', offset: I.xPx[0] - I.axisX, rotate: 90, margin: I.yMargin }));
    [0, 1, 2].forEach((k) => {
      series.push({ type: 'line', xAxisIndex: gIn, yAxisIndex: gIn, data: D.pos.map((x: number, i: number) => [x, D.traces[k][i]]),
        symbol: 'none', silent: true, clip: true, lineStyle: { color: INSET[k], width: 1.1 }, z: 3 + k });
    });

    /* ---- bars ---- */
    const B = L.bars;
    const catAxis = (show: boolean) => ({
      type: 'category', data: ORDERS, axisLine: { show: false }, axisTick: { show: false },
      axisLabel: { show, fontSize: 15, fontFamily: FONT, color: '#000', margin: B.catMargin, interval: 0 }, splitLine: { show: false },
    });
    const barLabel = { show: true, position: 'insideTop', distance: 8, fontSize: 15, fontFamily: FONT, formatter: (p: any) => String(p.value) };
    const gBits = addGrid(BAR_LEFT, B.bitsPx[1], BAR_WIDTH, B.bitsPx[0] - B.bitsPx[1], catAxis(false),
      rAxis({ min: 0, max: D.bitsMax, ticks: [0, D.bitsMax], position: 'left', offset: BAR_LEFT - BAR_AXIS_X, rotate: 90, margin: 14, tickLen: 6 }));
    series.push({ type: 'bar', xAxisIndex: gBits, yAxisIndex: gBits, barCategoryGap: '24%', silent: true, label: barLabel,
      data: D.bits.map((v: number, k: number) => ({ value: v, itemStyle: { color: BAR[k], borderColor: BAR_EDGE[k], borderWidth: 1 }, label: { color: BAR_TEXT[k] } })) });
    const gPrec = addGrid(BAR_LEFT, B.precPx[1], BAR_WIDTH, B.precPx[0] - B.precPx[1], catAxis(true),
      rAxis({ min: 0, max: D.precTicks[2], ticks: D.precTicks, position: 'left', offset: BAR_LEFT - BAR_AXIS_X, rotate: 90, margin: 14, tickLen: 6 }));
    series.push({ type: 'bar', xAxisIndex: gPrec, yAxisIndex: gPrec, barCategoryGap: '24%', barGap: '-100%', silent: true, label: barLabel,
      data: D.prec.map((v: number, k: number) => ({ value: v, itemStyle: { color: BAR[k], borderColor: BAR_EDGE[k], borderWidth: 1 }, label: { color: BAR_TEXT[k] } })),
      markLine: { silent: true, symbol: ['none', 'none'], label: { show: false }, lineStyle: { color: '#000', width: 1.6, type: [6, 4] }, data: [{ yAxis: D.chance }] },
    });
    series.push({ type: 'bar', xAxisIndex: gPrec, yAxisIndex: gPrec, barCategoryGap: '24%', barGap: '-100%', silent: true,
      data: D.prec, itemStyle: { color: 'rgba(0,0,0,0)' },
      label: { show: true, position: 'top', distance: 2, fontSize: 15, fontFamily: FONT, color: '#000', formatter: (p: any) => D.gain[p.dataIndex] } });
    text('Total bits', 321.7, B.bitsTitleY, 16, true);
    text('Precision', 321.7, B.precTitleY, 16, true);
    text('Order', 434, B.orderTitleY, 16);

    /* ---- right: logo ---- */
    const R = L.right;
    const lg = D.logo;
    const lxT = lg.xTicks;
    const lyT = lg.yTicks;
    const gR = addGrid(R.xPx[0], R.yPx[1], R.xPx[1] - R.xPx[0], R.yPx[0] - R.yPx[1],
      rAxis({ min: lxT[0], max: lxT[lxT.length - 1], ticks: lxT, position: 'bottom', offset: R.axisY - R.yPx[0], margin: R.xMargin, fmt: zeroFmt, tickLen: 6 }),
      rAxis({ min: lyT[0], max: lyT[lyT.length - 1], ticks: lyT, position: 'left', offset: R.xPx[0] - R.axisX, rotate: 90, margin: R.yMargin, tickLen: 6 }));
    series.push({ type: 'custom', xAxisIndex: gR, yAxisIndex: gR, renderItem: renderLetter, data: logoItems(lg), clip: false, silent: true, z: 4 });
    text('Information content', 520, R.yTitleY, 16, true);
    text('Model position [nt]', R.xTitleX, R.xTitleY, 16);

    /* ---- right: zoomed insets ---- */
    D.insets.forEach((ins: any, j: number) => {
      const IL = L.insets[j];
      const n = ins.top.length;
      const last = ins.first + n - 1;
      const step = (IL.cPx[1] - IL.cPx[0]) / (n - 1);
      const left = IL.cPx[0] - step / 2;
      const right = IL.cPx[1] + step / 2;
      const ya = IL.axisX != null
        ? rAxis({ min: ins.yr[0], max: ins.yr[1], ticks: ins.yr, position: 'left', offset: left - IL.axisX, rotate: 90, margin: IL.yMargin })
        : hiddenAxis(ins.yr[0], ins.yr[1]);
      const g = addGrid(left, IL.yPx[1], right - left, IL.yPx[0] - IL.yPx[1], hiddenAxis(ins.first - 0.5, last + 0.5), ya);
      series.push({ type: 'custom', xAxisIndex: g, yAxisIndex: g, renderItem: renderLetter, data: logoItems(ins), clip: false, silent: true, z: 4 });
      addGrid(IL.cPx[0], IL.bracketY - 10, IL.cPx[1] - IL.cPx[0], 10,
        rAxis({ min: ins.first, max: last, ticks: ins.ticks, position: 'bottom', tickLen: IL.tickLen, margin: IL.labMargin, line: ins.ticks.length > 1 }),
        hiddenAxis());
    });
  });

  return {
    animation: false,
    backgroundColor: '#ffffff',
    textStyle: { fontFamily: FONT },
    grid, xAxis, yAxis, series, legend,
    graphic: { elements },
  };
}

export default function App() {
  const ref = useRef<HTMLDivElement>(null);
  useEffect(() => {
    document.body.style.margin = '0';
    if (!ref.current) return;
    const chart = echarts.init(ref.current, null, { renderer: 'svg' });
    chart.setOption(buildOption() as any);
    return () => chart.dispose();
  }, []);
  return <div ref={ref} style={{ width: 765, height: 1102, background: '#fff' }} />;
}
